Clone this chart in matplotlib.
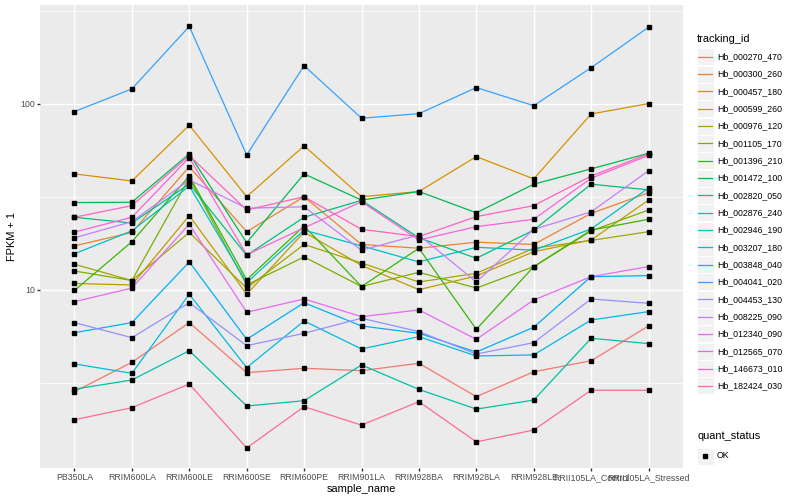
import matplotlib
matplotlib.use("Agg")
import matplotlib.pyplot as plt
from matplotlib.patches import Rectangle
from matplotlib.lines import Line2D
from matplotlib.ticker import FixedLocator, NullFormatter

plt.rcParams['font.family'] = ['Liberation Sans', 'DejaVu Sans']

samples = ["PB350LA", "RRIM600LA", "RRIM600LE", "RRIM600SE", "RRIM600PE",
           "RRIM901LA", "RRIM928BA", "RRIM928LA", "RRIM928LE",
           "RRII105LA_Control", "RRII105LA_Stressed"]

tracking_ids = ["Hb_000270_470", "Hb_000300_260", "Hb_000457_180", "Hb_000599_260",
                "Hb_000976_120", "Hb_001105_170", "Hb_001396_210", "Hb_001472_100",
                "Hb_002820_050", "Hb_002876_240", "Hb_002946_190", "Hb_003207_180",
                "Hb_003848_040", "Hb_004041_020", "Hb_004453_130", "Hb_008225_090",
                "Hb_012340_090", "Hb_012565_070", "Hb_146673_010", "Hb_182424_030"]

# FPKM + 1 per sample (in sample order)
Hb_000270_470 = [2.83, 4.07, 6.65, 3.58, 3.78, 3.67, 4.02, 2.66, 3.62, 4.15, 6.38]
Hb_000300_260 = [17.2, 20.3, 45.8, 20.5, 31.6, 17.5, 16.7, 18.0, 17.5, 25.7, 33.2]
Hb_000457_180 = [41.9, 38.4, 76.6, 31.6, 59.3, 31.6, 33.7, 51.9, 39.4, 88.0, 100.0]
Hb_000599_260 = [10.8, 10.6, 25.0, 9.45, 20.4, 13.5, 10.0, 11.85, 16.0, 18.5, 30.3]
Hb_000976_120 = [13.7, 11.2, 20.3, 10.2, 17.5, 13.9, 11.0, 12.25, 16.7, 18.4, 20.5]
Hb_001105_170 = [12.6, 11.2, 39.9, 10.6, 15.0, 10.4, 12.4, 10.2, 13.3, 20.7, 26.8]
Hb_001396_210 = [9.9, 18.1, 40.8, 11.3, 22.0, 10.4, 16.7, 6.12, 13.3, 20.9, 23.9]
Hb_001472_100 = [29.4, 29.5, 53.7, 17.9, 41.9, 30.3, 33.7, 25.9, 36.9, 44.6, 54.1]
Hb_002820_050 = [24.5, 22.8, 37.0, 15.3, 24.5, 30.2, 19.0, 14.75, 20.9, 36.9, 34.4]
Hb_002876_240 = [2.92, 3.27, 4.70, 2.37, 2.53, 3.94, 2.91, 2.28, 2.55, 5.48, 5.13]
Hb_002946_190 = [15.6, 20.7, 36.1, 10.9, 20.9, 17.2, 14.1, 16.9, 16.3, 21.2, 35.2]
Hb_003207_180 = [3.99, 3.55, 9.45, 3.81, 6.79, 4.80, 5.59, 4.40, 4.46, 6.87, 7.62]
Hb_003848_040 = [5.87, 6.65, 14.1, 5.41, 8.51, 6.38, 5.83, 4.62, 6.28, 11.75, 11.9]
Hb_004041_020 = [90.6, 120.0, 260.0, 53.0, 160.0, 83.5, 88.3, 122.0, 97.5, 156.0, 257.5]
Hb_004453_130 = [6.65, 5.52, 8.51, 5.0, 5.83, 7.02, 5.95, 4.51, 5.19, 8.91, 8.45]
Hb_008225_090 = [19.0, 23.2, 38.9, 27.4, 27.9, 16.3, 19.7, 11.0, 21.1, 26.2, 43.6]
Hb_012340_090 = [8.62, 10.2, 22.5, 7.56, 8.91, 7.16, 7.78, 5.41, 8.80, 11.75, 13.3]
Hb_012565_070 = [20.4, 24.5, 51.3, 15.4, 21.5, 29.7, 18.5, 21.8, 23.9, 39.7, 52.7]
Hb_146673_010 = [24.5, 28.3, 52.5, 26.8, 31.6, 21.1, 19.3, 24.7, 28.3, 40.8, 53.7]
Hb_182424_030 = [2.0, 2.32, 3.11, 1.41, 2.35, 1.87, 2.50, 1.52, 1.76, 2.88, 2.88]

series = [Hb_000270_470, Hb_000300_260, Hb_000457_180, Hb_000599_260, Hb_000976_120,
          Hb_001105_170, Hb_001396_210, Hb_001472_100, Hb_002820_050, Hb_002876_240,
          Hb_002946_190, Hb_003207_180, Hb_003848_040, Hb_004041_020, Hb_004453_130,
          Hb_008225_090, Hb_012340_090, Hb_012565_070, Hb_146673_010, Hb_182424_030]

quant_levels = ["OK"]

colors = ["#F8766D", "#EA8331", "#D89000", "#C09B00", "#A3A500", "#7CAE00", "#39B600",
          "#00BB4E", "#00BF7D", "#00C1A3", "#00BFC4", "#00BAE0", "#00B0F6", "#35A2FF",
          "#9590FF", "#C77CFF", "#E76BF3", "#FA62DB", "#FF62BC", "#FF6C91"]

W, H = 800, 500
fig = plt.figure(figsize=(8, 5), dpi=100)
fig.patch.set_facecolor('white')

px_l, px_r, px_t, px_b = 40, 683, 5, 468.3
ax = fig.add_axes([px_l / W, 1 - px_b / H, (px_r - px_l) / W, (px_b - px_t) / H])
ax.set_facecolor('#EBEBEB')
for s in ax.spines.values():
    s.set_visible(False)

xs = list(range(len(samples)))
for vals, c in zip(series, colors):
    ax.plot(xs, vals, color=c, lw=0.9, solid_capstyle='butt', zorder=2)
for vals in series:
    ax.plot(xs, vals, ls='none', marker='s', ms=2.4, color='black', zorder=3)

ax.set_yscale('log')
ax.set_ylim(1.096, 339)
ax.set_xlim(-0.6, 10.6)
ax.set_xticks(xs)
ax.set_xticklabels(samples)
ax.yaxis.set_major_locator(FixedLocator([10, 100]))
ax.set_yticklabels(["10", "100"])
ax.yaxis.set_minor_locator(FixedLocator([10 ** 0.5, 10 ** 1.5, 10 ** 2.5]))
ax.yaxis.set_minor_formatter(NullFormatter())
ax.set_axisbelow(True)
ax.grid(which='major', color='white', lw=1.02)
ax.grid(which='minor', axis='y', color='white', lw=0.51)
ax.tick_params(which='major', length=1.98, width=1.0, color='#333333',
               labelsize=6.34, labelcolor='#4D4D4D', pad=1.6)
ax.tick_params(which='minor', length=0)

fig.text(361.5 / W, 1 - 489 / H, "sample_name", ha='center', va='center', fontsize=7.92)
fig.text(12.5 / W, 1 - 236.7 / H, "FPKM + 1", ha='center', va='center', rotation=90, fontsize=7.92)

# legend: tracking_id
def fx(x):
    return x / W

def fy(y):
    return 1 - y / H

fig.text(fx(697), fy(39.5), "tracking_id", ha='left', va='center', fontsize=7.92)
for i, (tid, c) in enumerate(zip(tracking_ids, colors)):
    yc = 56.7 + i * 17.33
    fig.patches.append(Rectangle((fx(696.5), fy(yc + 8.5)), 17 / W, 17 / H,
                                 transform=fig.transFigure, facecolor='#F2F2F2',
                                 edgecolor='white', lw=0.7))
    fig.lines.append(Line2D([fx(698.2), fx(711.8)], [fy(yc), fy(yc)],
                            transform=fig.transFigure, color=c, lw=0.9))
    fig.text(fx(717), fy(yc), tid, ha='left', va='center', fontsize=6.34)

fig.text(fx(697), fy(436), "quant_status", ha='left', va='center', fontsize=7.92)
for i, q in enumerate(quant_levels):
    yc = 456 + i * 17.33
    fig.patches.append(Rectangle((fx(696.5), fy(yc + 8.5)), 17 / W, 17 / H,
                                 transform=fig.transFigure, facecolor='#F2F2F2',
                                 edgecolor='white', lw=0.7))
    fig.lines.append(Line2D([fx(705)], [fy(yc)], transform=fig.transFigure,
                            ls='none', marker='s', ms=2.4, color='black'))
    fig.text(fx(717), fy(yc), q, ha='left', va='center', fontsize=6.34)

fig.savefig("out.png", dpi=100)
